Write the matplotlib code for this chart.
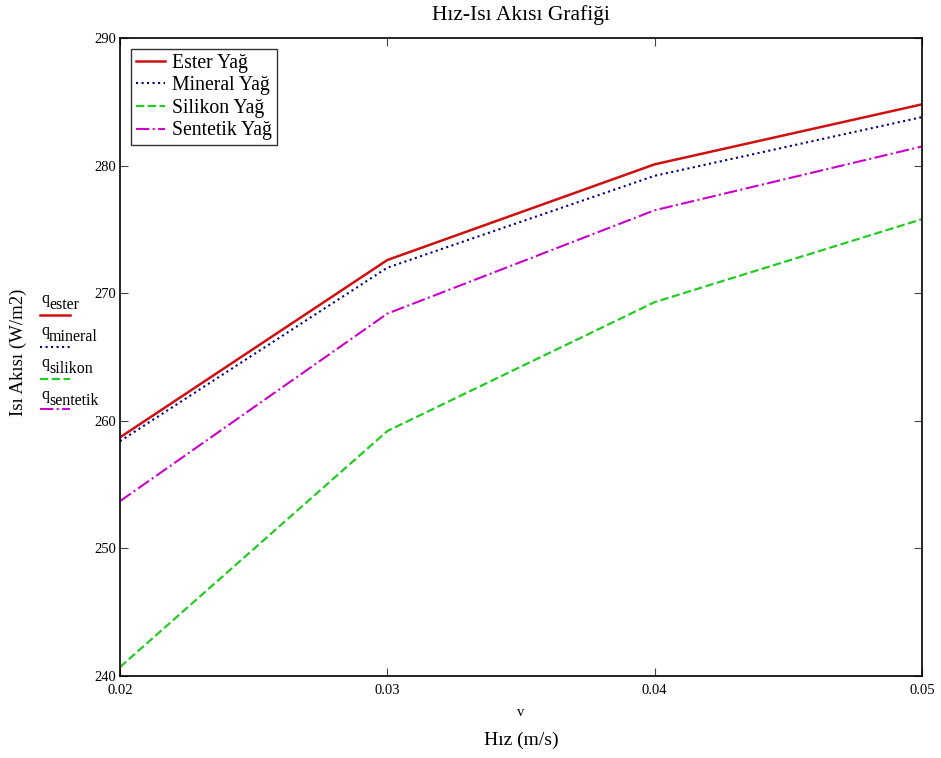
import numpy as np
import matplotlib.pyplot as plt
from matplotlib.lines import Line2D

plt.rcParams['font.family'] = ['Liberation Serif', 'DejaVu Serif']

# hız (m/s) ve ısı akısı (W/m2) değerleri
v = [0.02, 0.03, 0.04, 0.05]
q_ester = [258.7, 272.6, 280.1, 284.8]
q_mineral = [258.4, 272.0, 279.2, 283.8]
q_silikon = [240.7, 259.2, 269.3, 275.8]
q_sentetik = [253.7, 268.4, 276.5, 281.5]

names = ["Ester Yağ", "Mineral Yağ", "Silikon Yağ", "Sentetik Yağ"]
subs = ["ester", "mineral", "silikon", "sentetik"]
series = [q_ester, q_mineral, q_silikon, q_sentetik]
colors = ["#d01010", "#000080", "#22cc22", "#cc00cc"]
styles = ["-", ":", "--", "-."]
widths = [1.8, 1.5, 1.6, 1.5]

W, H = 941, 758
fig = plt.figure(figsize=(W / 100, H / 100), dpi=100)
ax = fig.add_axes([120 / W, 1 - 676 / H, 802 / W, 638 / H])

for q, n, c, ls, lw in zip(series, names, colors, styles, widths):
    ax.plot(v, q, color=c, linestyle=ls, linewidth=lw, label=n)

ax.set_xlim(0.02, 0.05)
ax.set_ylim(240, 290)
ax.set_xticks([0.02, 0.03, 0.04, 0.05])
ax.set_yticks([240, 250, 260, 270, 280, 290])
ax.tick_params(direction='in', length=6, top=True, right=True,
               labelsize=10.5, color='#444444')
ax.tick_params(axis='x', pad=6)
ax.tick_params(axis='y', pad=3)
for s in ax.spines.values():
    s.set_linewidth(1.2)

# başlık ve eksen yazıları (eksen ortasına hizalı)
xc = 521 / W
fig.text(xc, 1 - 15 / H, "Hız-Isı Akısı Grafiği", ha='center', va='center', fontsize=15.5)
fig.text(xc, 1 - 712 / H, "v", ha='center', va='center', fontsize=10.5)
fig.text(xc, 1 - 740 / H, "Hız (m/s)", ha='center', va='center', fontsize=14)
fig.text(18 / W, 1 - 352 / H, "Isı Akısı (W/m2)", rotation=90,
         ha='center', va='center', fontsize=13.5)

leg = ax.legend(loc='upper left', fontsize=14.2, frameon=True, fancybox=False,
                borderaxespad=0.55, handlelength=1.5, labelspacing=0.18,
                borderpad=0.25, handletextpad=0.35)
leg.get_frame().set_edgecolor('black')
leg.get_frame().set_linewidth(1.0)

# sol taraftaki değişken etiketleri (q ve alt indis ayrı yazılır)
text_y = [302, 334, 366, 398]
line_y = [315, 347, 379, 409]
for sub, c, ls, lw, ty, lyy in zip(subs, colors, styles, widths, text_y, line_y):
    fig.text(41 / W, 1 - (ty - 3) / H, "q", ha='left', va='center', fontsize=11.5)
    fig.text(49 / W, 1 - (ty + 3) / H, sub, ha='left', va='center', fontsize=11.5)
    fig.add_artist(Line2D([40 / W, 70 / W], [1 - lyy / H, 1 - lyy / H],
                          color=c, linestyle=ls, linewidth=lw))

fig.savefig("out.png", dpi=100)
